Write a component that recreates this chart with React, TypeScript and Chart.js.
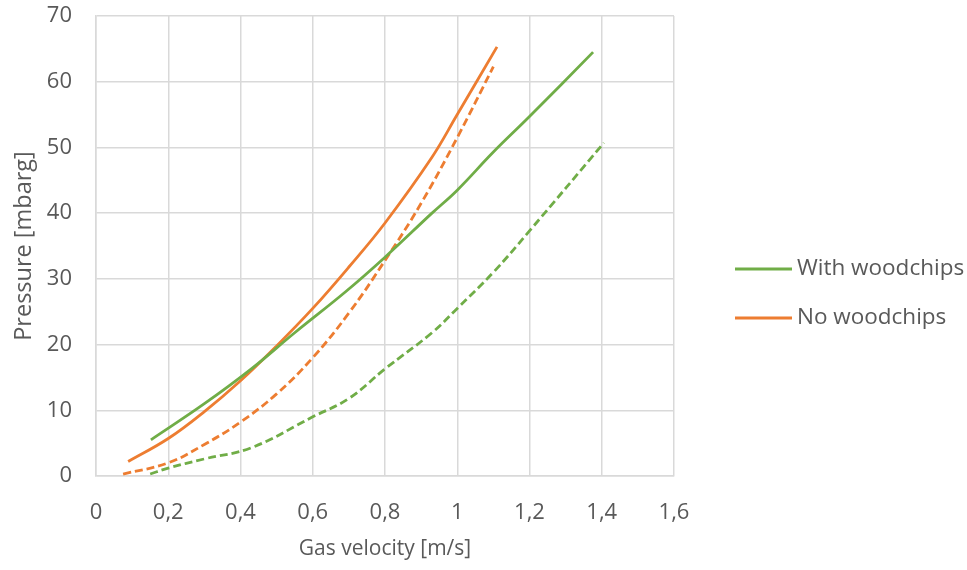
import React, { useEffect, useRef } from "react";
import { Chart, registerables } from "chart.js";

Chart.register(...registerables);

const withSolidX = [0.152, 0.3, 0.43, 0.55, 0.69, 0.8, 0.93, 1.0, 1.1, 1.2, 1.376];
const withSolidY = [5.5, 11, 16.3, 21.8, 28, 33.3, 40, 43.5, 49.3, 54.7, 64.5];

const noSolidX = [0.089, 0.2, 0.3, 0.4, 0.5, 0.6, 0.7, 0.8, 0.93, 1.0, 1.11];
const noSolidY = [2.2, 5.7, 9.8, 14.5, 19.8, 25.5, 31.8, 38.5, 48.5, 55, 65.3];

const withDashX = [0.15, 0.2, 0.3, 0.43, 0.6, 0.7, 0.8, 0.93, 1.0, 1.1, 1.2, 1.406];
const withDashY = [0.3, 1.2, 2.6, 4.3, 9, 11.8, 16.3, 21.8, 25.5, 31, 37.3, 50.7];

const noDashX = [0.075, 0.2, 0.3, 0.4, 0.5, 0.6, 0.7, 0.8, 0.9, 1.0, 1.1];
const noDashY = [0.3, 2, 4.8, 8.2, 12.5, 18, 24.8, 32.8, 41.5, 51.5, 62.3];

const legendLabels = ["With woodchips", "No woodchips"];
const xTitle = "Gas velocity [m/s]";
const yTitle = "Pressure [mbarg]";

const GREEN = "#70AD47";
const ORANGE = "#ED7D31";
const TEXT = "#595959";
const GRID = "#d9d9d9";
const FONT = "'Open Sans', 'Noto Sans', sans-serif";

const pts = (xs: number[], ys: number[]) => xs.map((x, i) => ({ x, y: ys[i] }));

export default function App() {
  const ref = useRef<HTMLCanvasElement | null>(null);
  useEffect(() => {
    document.body.style.margin = "0";
    const legendPlugin = {
      id: "customLegend",
      afterDraw(chart: any) {
        const ctx = chart.ctx;
        ctx.save();
        const items = [
          { label: legendLabels[0], color: GREEN, y: 269 },
          { label: legendLabels[1], color: ORANGE, y: 318 },
        ];
        for (const it of items) {
          ctx.strokeStyle = it.color;
          ctx.lineWidth = 2.8;
          ctx.beginPath();
          ctx.moveTo(735, it.y);
          ctx.lineTo(792, it.y);
          ctx.stroke();
          ctx.fillStyle = TEXT;
          ctx.font = `22.5px ${FONT}`;
          ctx.textBaseline = "middle";
          ctx.textAlign = "left";
          ctx.fillText(it.label, 797, it.y);
        }
        ctx.restore();
      },
    };
    const common = { showLine: true, pointRadius: 0, borderWidth: 2.8, tension: 0.4, fill: false };
    const chart = new Chart(ref.current!, {
      type: "scatter",
      data: {
        datasets: [
          { ...common, label: legendLabels[0], data: pts(withSolidX, withSolidY), borderColor: GREEN, backgroundColor: GREEN },
          { ...common, label: legendLabels[1], data: pts(noSolidX, noSolidY), borderColor: ORANGE, backgroundColor: ORANGE },
          { ...common, label: "With woodchips (dashed)", data: pts(withDashX, withDashY), borderColor: GREEN, backgroundColor: GREEN, borderDash: [8, 4] },
          { ...common, label: "No woodchips (dashed)", data: pts(noDashX, noDashY), borderColor: ORANGE, backgroundColor: ORANGE, borderDash: [8, 4] },
        ],
      },
      options: {
        animation: false,
        responsive: false,
        maintainAspectRatio: false,
        layout: { padding: { top: 16, right: 293, left: 0, bottom: 0 } },
        plugins: { legend: { display: false }, tooltip: { enabled: false } },
        scales: {
          x: {
            type: "linear",
            min: 0,
            max: 1.6,
            afterFit: (s: any) => { s.height = 94; s.paddingLeft = 0; s.paddingRight = 0; },
            ticks: {
              stepSize: 0.2,
              padding: 24,
              color: TEXT,
              font: { family: FONT, size: 22 },
              callback: (v: any) => String(Math.round(Number(v) * 10) / 10).replace(".", ","),
            },
            grid: { color: GRID, lineWidth: 1.5, drawTicks: false },
            border: { color: GRID, width: 1.5 },
            title: { display: true, text: xTitle, color: TEXT, font: { family: FONT, size: 21 }, padding: { top: 0, bottom: 8 } },
          },
          y: {
            min: 0,
            max: 70,
            afterFit: (s: any) => { s.width = 96; s.paddingTop = 0; s.paddingBottom = 0; },
            ticks: { stepSize: 10, padding: 24, color: TEXT, font: { family: FONT, size: 22 } },
            grid: { color: GRID, lineWidth: 1.5, drawTicks: false },
            border: { color: GRID, width: 1.5 },
            title: { display: true, text: yTitle, color: TEXT, font: { family: FONT, size: 23.5 }, padding: { top: 10, bottom: 0 } },
          },
        },
      },
      plugins: [legendPlugin],
    });
    return () => chart.destroy();
  }, []);
  return (
    <div style={{ width: 967, height: 570, background: "#fff" }}>
      <canvas ref={ref} width={967} height={570} style={{ display: "block" }} />
    </div>
  );
}
